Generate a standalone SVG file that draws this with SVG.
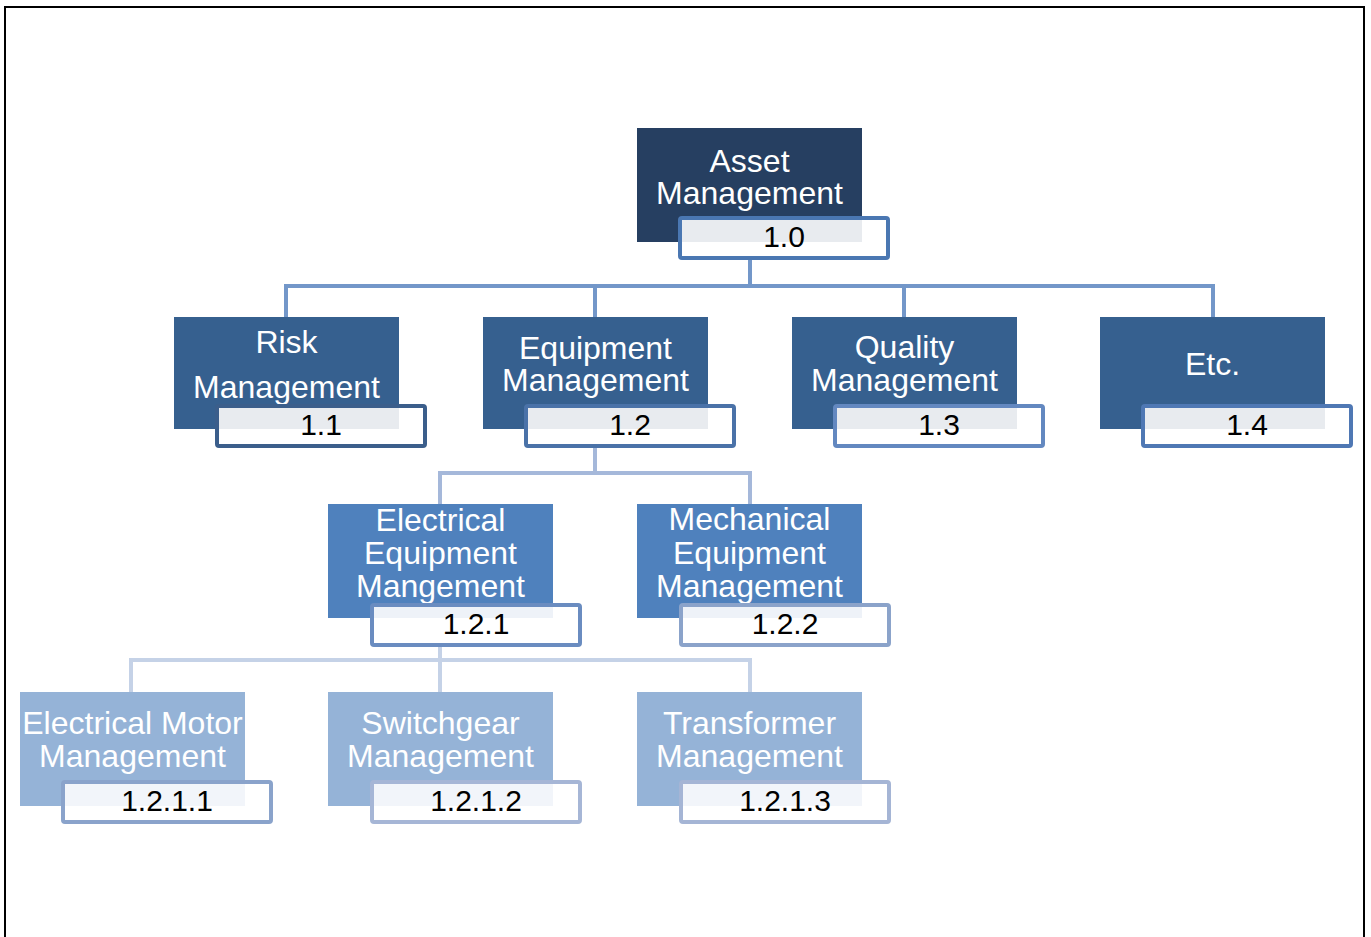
<svg xmlns="http://www.w3.org/2000/svg" width="1371" height="937" viewBox="0 0 1371 937">
  <style>
    .t { font-family: "Liberation Sans", Arial, sans-serif; font-size: 32px; fill: #ffffff; text-anchor: middle; }
    .n { font-family: "Liberation Sans", Arial, sans-serif; font-size: 30px; fill: #000000; text-anchor: middle; }
    .lbl { fill: #ffffff; stroke-width: 4; }
    .c { fill: none; stroke-width: 4; stroke-linejoin: miter; }
    .l0 { fill: #263f61; }
    .l1 { fill: #36608f; }
    .l2 { fill: #4f81bd; }
    .l3 { fill: #95b3d7; }
  </style>

  <!-- frame -->
  <rect x="5" y="7" width="1359" height="960" fill="#ffffff" stroke="#000000" stroke-width="2"/>

  <!-- connectors -->
  <g id="connectors">
    <path class="c" stroke="#7397c9" d="M750 258 V286 M284 286 H1215 M286 284 V317 M595 286 V317 M904 286 V317 M1213 284 V317"/>
    <path class="c" stroke="#a5b8da" d="M595 446 V473 M438 473 H752 M440 471 V504 M750 471 V504"/>
    <path class="c" stroke="#c5d2e7" d="M440 645 V660 M129 660 H752 M131 658 V692 M440 660 V692 M750 658 V692"/>
  </g>

  <!-- level 0 -->
  <g id="node-1-0">
    <rect class="l0" x="637" y="128" width="225" height="114"/>
    <text class="t" x="749.5" y="172">Asset</text>
    <text class="t" x="749.5" y="204">Management</text>
    <rect class="lbl" x="680" y="218" width="208" height="40" rx="2" stroke="#4a77b2"/>
    <rect x="682" y="220" width="180" height="22" fill="#e8ebef"/>
    <text class="n" x="784" y="247">1.0</text>
  </g>

  <!-- level 1 -->
  <g id="node-1-1">
    <rect class="l1" x="174" y="317" width="225" height="112"/>
    <text class="t" x="286.5" y="353">Risk</text>
    <text class="t" x="286.5" y="398">Management</text>
    <rect class="lbl" x="217" y="406" width="208" height="40" rx="2" stroke="#3b5e8b"/>
    <rect x="219" y="408" width="180" height="21" fill="#e8ebef"/>
    <text class="n" x="321" y="435">1.1</text>
  </g>

  <g id="node-1-2">
    <rect class="l1" x="483" y="317" width="225" height="112"/>
    <text class="t" x="595.5" y="359">Equipment</text>
    <text class="t" x="595.5" y="391">Management</text>
    <rect class="lbl" x="526" y="406" width="208" height="40" rx="2" stroke="#4a72a8"/>
    <rect x="528" y="408" width="180" height="21" fill="#e8ebef"/>
    <text class="n" x="630" y="435">1.2</text>
  </g>

  <g id="node-1-3">
    <rect class="l1" x="792" y="317" width="225" height="112"/>
    <text class="t" x="904.5" y="358">Quality</text>
    <text class="t" x="904.5" y="391">Management</text>
    <rect class="lbl" x="835" y="406" width="208" height="40" rx="2" stroke="#6388c0"/>
    <rect x="837" y="408" width="180" height="21" fill="#e8ebef"/>
    <text class="n" x="939" y="435">1.3</text>
  </g>

  <g id="node-1-4">
    <rect class="l1" x="1100" y="317" width="225" height="112"/>
    <text class="t" x="1212.5" y="375">Etc.</text>
    <rect class="lbl" x="1143" y="406" width="208" height="40" rx="2" stroke="#4f78b4"/>
    <rect x="1145" y="408" width="180" height="21" fill="#e8ebef"/>
    <text class="n" x="1247" y="435">1.4</text>
  </g>

  <!-- level 2 -->
  <g id="node-1-2-1">
    <rect class="l2" x="328" y="504" width="225" height="114"/>
    <text class="t" x="440.5" y="531">Electrical</text>
    <text class="t" x="440.5" y="564">Equipment</text>
    <text class="t" x="440.5" y="597">Mangement</text>
    <rect class="lbl" x="372" y="605" width="208" height="40" rx="2" stroke="#6a8cc0"/>
    <rect x="374" y="607" width="179" height="11" fill="#eef2f8"/>
    <text class="n" x="476" y="634">1.2.1</text>
  </g>

  <g id="node-1-2-2">
    <rect class="l2" x="637" y="504" width="225" height="114"/>
    <text class="t" x="749.5" y="530">Mechanical</text>
    <text class="t" x="749.5" y="564">Equipment</text>
    <text class="t" x="749.5" y="597">Management</text>
    <rect class="lbl" x="681" y="605" width="208" height="40" rx="2" stroke="#8ba3ca"/>
    <rect x="683" y="607" width="179" height="11" fill="#eef2f8"/>
    <text class="n" x="785" y="634">1.2.2</text>
  </g>

  <!-- level 3 -->
  <g id="node-1-2-1-1">
    <rect class="l3" x="20" y="692" width="225" height="114"/>
    <text class="t" x="132.5" y="734">Electrical Motor</text>
    <text class="t" x="132.5" y="767">Management</text>
    <rect class="lbl" x="63" y="782" width="208" height="40" rx="2" stroke="#8aa3cb"/>
    <rect x="65" y="784" width="180" height="22" fill="#f2f5fa"/>
    <text class="n" x="167" y="811">1.2.1.1</text>
  </g>

  <g id="node-1-2-1-2">
    <rect class="l3" x="328" y="692" width="225" height="114"/>
    <text class="t" x="440.5" y="734">Switchgear</text>
    <text class="t" x="440.5" y="767">Management</text>
    <rect class="lbl" x="372" y="782" width="208" height="40" rx="2" stroke="#a6b6d6"/>
    <rect x="374" y="784" width="179" height="22" fill="#f2f5fa"/>
    <text class="n" x="476" y="811">1.2.1.2</text>
  </g>

  <g id="node-1-2-1-3">
    <rect class="l3" x="637" y="692" width="225" height="114"/>
    <text class="t" x="749.5" y="734">Transformer</text>
    <text class="t" x="749.5" y="767">Management</text>
    <rect class="lbl" x="681" y="782" width="208" height="40" rx="2" stroke="#a5b5d5"/>
    <rect x="683" y="784" width="179" height="22" fill="#f2f5fa"/>
    <text class="n" x="785" y="811">1.2.1.3</text>
  </g>
</svg>
